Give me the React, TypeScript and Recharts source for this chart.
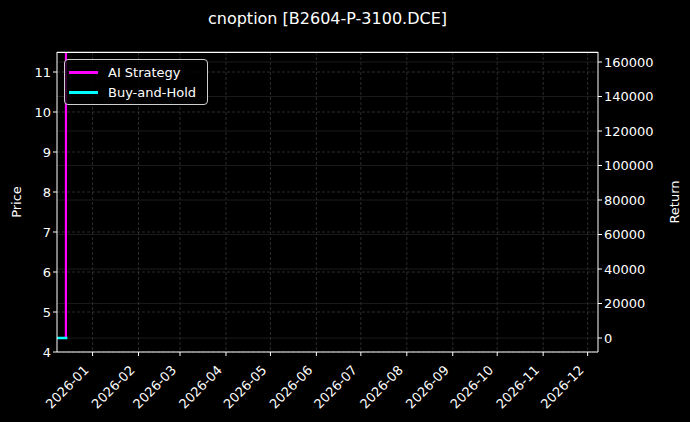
import { LineChart, Line, XAxis, YAxis, CartesianGrid, ReferenceLine } from 'recharts'

const dates = [
  '2025-12-08', '2025-12-09', '2025-12-10', '2025-12-11',
  '2025-12-12', '2025-12-13', '2025-12-14', '2025-12-15',
]
const aiStrategy = [0, 0, 0, 0, 0, 0, 0, 3000000]
const buyAndHold = [0, 0, 0, 0, 0, 0, 0, 0]

const monthTicks = [
  '2026-01', '2026-02', '2026-03', '2026-04', '2026-05', '2026-06',
  '2026-07', '2026-08', '2026-09', '2026-10', '2026-11', '2026-12',
]
const priceTicks = [4, 5, 6, 7, 8, 9, 10, 11]
const returnTicks = [0, 20000, 40000, 60000, 80000, 100000, 120000, 140000, 160000]

const ts = (s: string) => {
  const [y, m, d] = s.split('-').map(Number)
  return Date.UTC(y, m - 1, d || 1)
}

const data = dates.map((d, i) => ({
  t: ts(d),
  ai: aiStrategy[i],
  bh: buyAndHold[i],
}))

const FONT = '"DejaVu Sans", sans-serif'
const tickStyle = { fill: '#fff', fontSize: 13, fontFamily: FONT }

function fmtMonth(v: number) {
  const d = new Date(v)
  return `${d.getUTCFullYear()}-${String(d.getUTCMonth() + 1).padStart(2, '0')}`
}

function DateTick({ x, y, payload }: any) {
  return (
    <text
      transform={`translate(${x - 3},${y + 13}) rotate(-45)`}
      textAnchor="end"
      fill="#fff"
      fontSize={13}
      fontFamily={FONT}
    >
      {fmtMonth(payload.value)}
    </text>
  )
}

function LegendBox() {
  const items = [
    { name: 'AI Strategy', color: '#ff00ff' },
    { name: 'Buy-and-Hold', color: '#00ffff' },
  ]
  return (
    <div style={{
      position: 'absolute', left: 64, top: 59, zIndex: 2,
      border: '1px solid #cfcfcf', borderRadius: 4, background: 'rgba(0,0,0,0.8)',
      padding: '2px 11px 2px 4px', fontFamily: FONT, fontSize: 13, color: '#fff',
    }}>
      {items.map(it => (
        <div key={it.name} style={{ display: 'flex', alignItems: 'center', height: 20 }}>
          <span style={{ display: 'inline-block', width: 29, height: 3, background: it.color, marginRight: 10 }} />
          {it.name}
        </div>
      ))}
    </div>
  )
}

export default function App() {
  return (
    <div style={{ position: 'absolute', left: 0, top: 0, width: 690, height: 422, background: '#000' }}>
      <div style={{
        position: 'absolute', top: 9, left: 0, width: 655, textAlign: 'center',
        color: '#fff', fontFamily: FONT, fontSize: 16,
      }}>
        cnoption [B2604-P-3100.DCE]
      </div>
      <LineChart width={690} height={422} data={data}
        margin={{ top: 52, right: 12, bottom: 10, left: 12 }}>
        <CartesianGrid yAxisId="price" stroke="#484848" strokeDasharray="3 2" strokeWidth={0.6}
          horizontalValues={priceTicks} verticalValues={monthTicks.map(ts)} />
        <CartesianGrid yAxisId="ret" stroke="#2c2c2c" strokeWidth={0.6}
          horizontalValues={returnTicks} vertical={false} />
        <XAxis dataKey="t" type="number" scale="time"
          domain={[ts('2025-12-08'), ts('2026-12-08')]} allowDataOverflow
          ticks={monthTicks.map(ts)} tick={<DateTick />} interval={0}
          stroke="#fff" tickSize={4} height={60} />
        <YAxis yAxisId="price" type="number" domain={[4, 11.5]} ticks={priceTicks}
          allowDataOverflow stroke="#fff" tick={tickStyle} tickSize={4} width={45}
          label={{ value: 'Price', angle: -90, position: 'insideLeft', offset: 4, fill: '#fff', fontSize: 13, fontFamily: FONT, style: { textAnchor: 'middle' } }} />
        <YAxis yAxisId="ret" orientation="right" type="number" domain={[-8116, 165800]}
          ticks={returnTicks} allowDataOverflow stroke="#fff" tick={tickStyle} tickSize={4} width={80}
          label={{ value: 'Return', angle: -90, position: 'insideRight', offset: 4, fill: '#fff', fontSize: 13, fontFamily: FONT, style: { textAnchor: 'middle' } }} />
        <Line yAxisId="ret" dataKey="ai" name="AI Strategy" stroke="#ff00ff" strokeWidth={2.2}
          dot={false} isAnimationActive={false} type="linear" />
        <Line yAxisId="ret" dataKey="bh" name="Buy-and-Hold" stroke="#00ffff" strokeWidth={2.5}
          dot={false} isAnimationActive={false} type="linear" />
        <ReferenceLine yAxisId="price" y={11.49} stroke="#fff" strokeWidth={1.2} ifOverflow="visible" />
      </LineChart>
      <LegendBox />
    </div>
  )
}
